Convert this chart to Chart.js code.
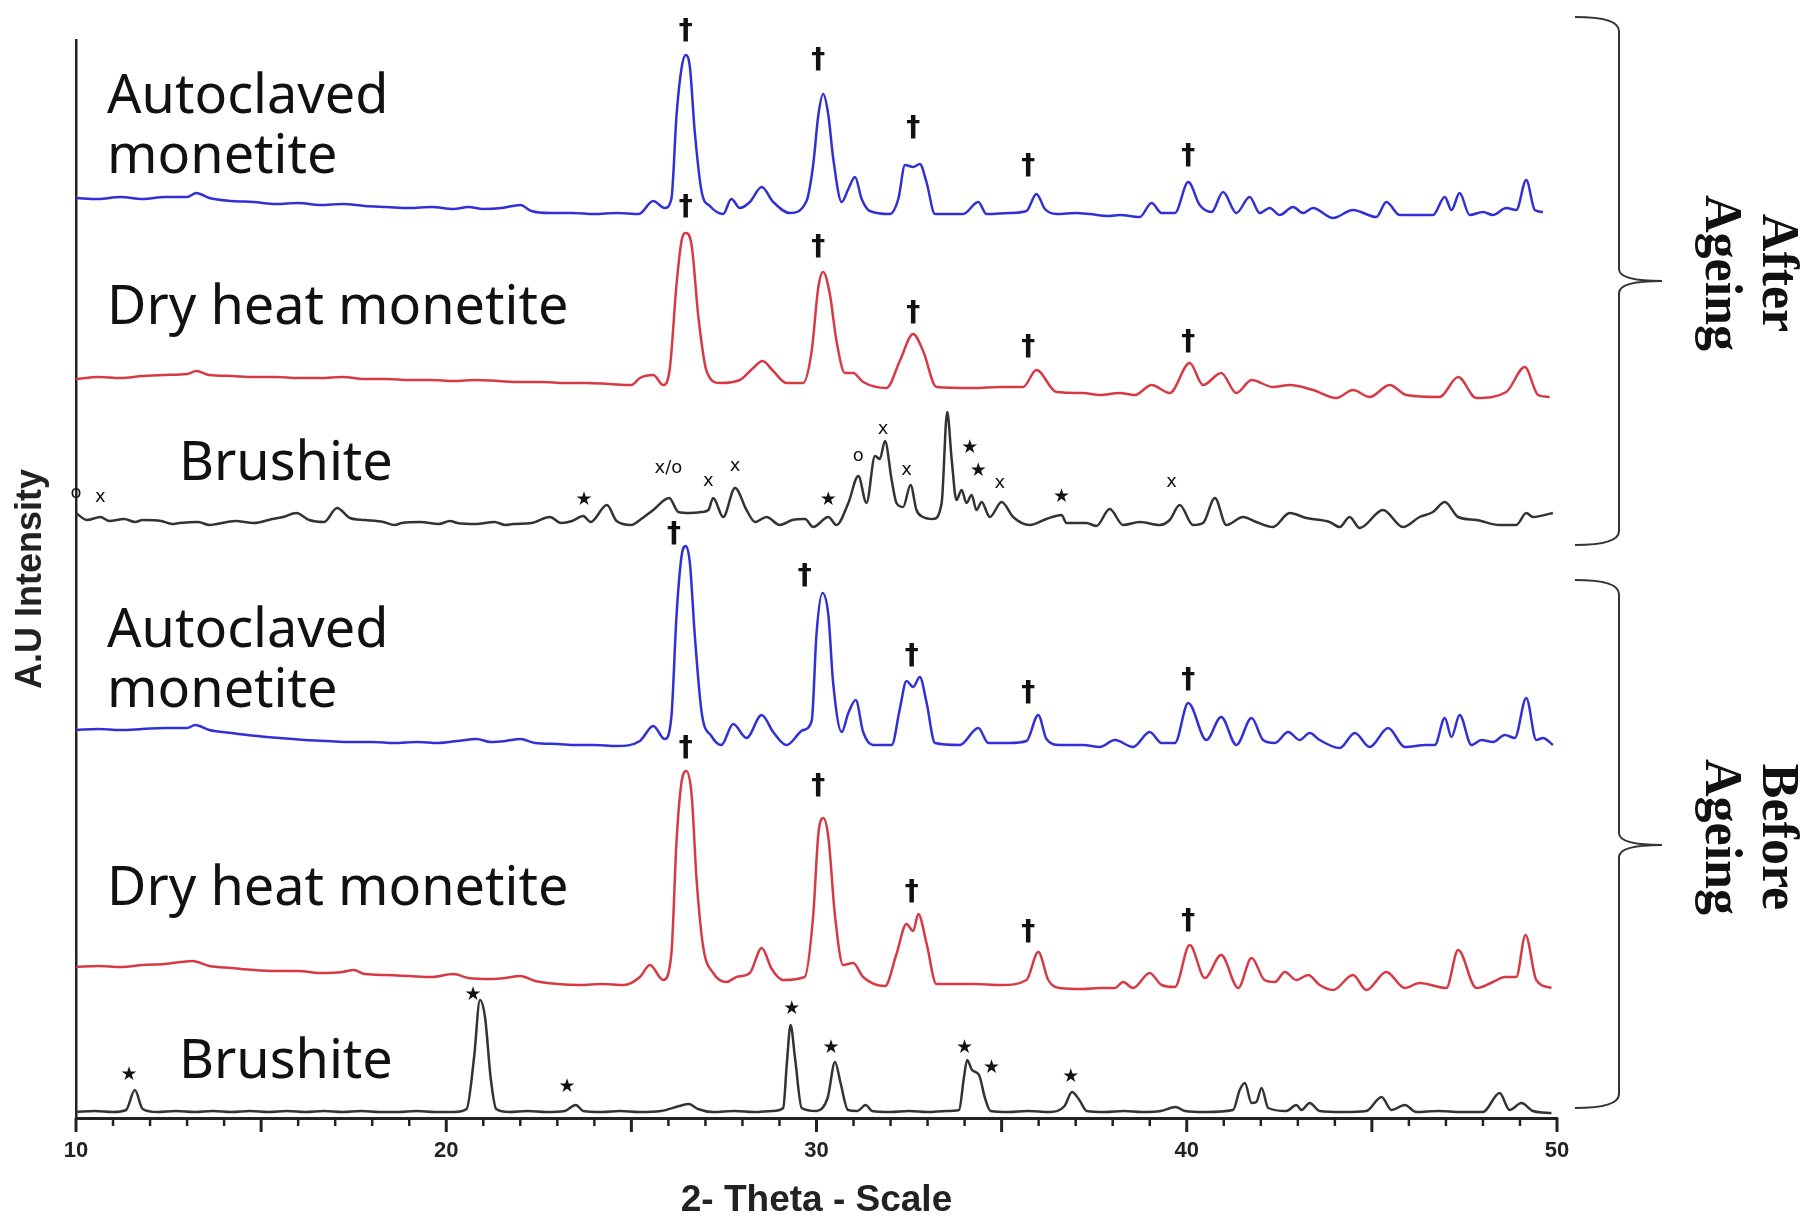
<!DOCTYPE html>
<html>
<head>
<meta charset="utf-8">
<title>XRD - ageing</title>
<script src="https://cdn.jsdelivr.net/npm/chart.js@4"></script>
<style>
  html, body { margin: 0; padding: 0; background: #fff; }
  canvas { display: block; }
</style>
</head>
<body>
<canvas id="grafico-xrd" width="1807" height="1225"></canvas>
<script>
// 2-theta (deg) and stacked intensity (a.u.), top trace first

// --- after ageing ---
const autoAfterTheta = [10.0,10.6,11.2,11.8,12.4,13.0,13.25,13.6,14.2,14.8,15.4,16.0,16.6,17.2,17.8,18.4,19.0,19.6,20.2,20.6,21.0,21.5,22.0,22.3,22.8,23.4,24.0,24.6,25.2,25.59,25.9,26.08,26.22,26.36,26.47,26.58,26.71,26.9,27.12,27.48,27.7,27.93,28.2,28.52,28.83,29.28,29.73,29.91,30.05,30.18,30.32,30.45,30.68,30.86,31.04,31.22,31.44,31.98,32.21,32.39,32.61,32.79,32.97,33.2,33.96,34.37,34.59,35.2,35.67,35.94,36.17,36.48,37.0,37.38,37.9,38.19,38.73,39.05,39.32,39.68,40.04,40.35,40.67,40.98,41.34,41.7,41.97,42.24,42.51,42.87,43.14,43.41,43.95,44.49,45.12,45.39,45.75,46.29,46.65,46.97,47.15,47.37,47.64,48.0,48.27,48.63,48.9,49.17,49.4,49.62];
const autoAfterI = [920,919,921,919,921,921,925,920,917,916,914,915,913,914,912,911,910,911,909,911,909,910,913,907,905,905,904,905,904,917,910,919,1003,1051,1063,1051,987,926,912,904,919,910,916,931,916,905,917,953,1003,1024,1003,960,916,929,941,919,907,904,919,953,951,954,936,904,904,916,904,905,907,924,909,904,905,904,902,903,901,915,905,905,936,913,906,926,905,921,905,910,903,911,905,910,900,908,901,916,903,903,903,921,908,925,903,906,903,910,908,938,908,906];

const dryAfterTheta = [10.0,10.6,11.2,11.8,12.4,13.0,13.25,13.6,14.2,14.8,15.4,16.0,16.6,17.2,17.8,18.4,19.0,19.6,20.2,20.8,21.4,22.0,22.6,23.2,23.8,24.4,25.0,25.23,25.59,25.86,26.04,26.22,26.36,26.47,26.63,26.81,27.03,27.39,27.93,28.29,28.54,28.83,29.19,29.64,29.87,30.05,30.18,30.36,30.54,30.77,30.99,31.26,31.89,32.25,32.61,32.88,33.24,34.23,35.0,35.58,35.94,36.48,37.2,37.65,38.19,38.6,39.05,39.54,40.08,40.44,40.93,41.34,41.75,42.33,42.78,43.41,44.04,44.49,44.94,45.48,45.93,46.83,47.33,47.82,48.63,49.13,49.49,49.8];
const dryAfterI = [739,741,740,742,743,744,747,743,742,741,741,740,740,741,739,739,738,738,737,738,737,736,736,735,735,734,733,740,743,733,750,834,878,885,872,801,747,735,738,750,757,747,735,735,767,831,846,824,777,745,745,736,730,757,784,767,731,730,731,731,748,726,725,723,725,723,733,725,755,733,745,725,738,731,733,728,720,728,721,733,723,721,741,720,726,751,723,721];

const brushAfterTheta = [10.0,10.3,10.66,10.9,11.3,11.6,11.8,12.3,12.6,12.8,13.3,13.6,13.8,14.3,14.8,15.3,15.6,15.95,16.3,16.7,17.05,17.4,17.8,18.3,18.6,18.8,19.3,19.8,20.1,20.3,20.8,21.3,21.6,21.8,22.3,22.8,23.1,23.4,23.7,23.9,24.34,24.6,25.0,25.23,25.59,26.02,26.27,26.58,26.9,27.08,27.21,27.48,27.8,28.11,28.34,28.65,29.01,29.35,29.69,29.91,30.32,30.54,30.86,31.13,31.35,31.58,31.71,31.85,32.03,32.16,32.34,32.54,32.7,32.88,33.15,33.38,33.53,33.65,33.78,33.92,34.05,34.19,34.32,34.46,34.68,35.0,35.31,35.76,36.21,36.62,36.75,37.29,37.56,37.92,38.28,38.73,39.27,39.54,39.81,40.17,40.44,40.76,41.07,41.52,41.88,42.33,42.78,43.23,43.86,44.13,44.4,44.67,45.3,45.84,46.29,46.65,46.97,47.33,47.82,48.45,48.9,49.17,49.35,49.89];
const brushAfterI = [605,598,601,597,599,596,598,597,594,595,596,593,594,597,595,599,601,605,598,596,610,600,598,596,593,595,596,594,597,595,594,596,593,594,595,601,595,597,602,596,613,597,593,598,608,620,606,605,606,608,620,601,630,608,596,601,593,598,599,591,601,593,615,642,615,662,659,677,638,615,611,633,608,601,599,615,706,659,618,628,615,623,608,616,601,616,601,593,599,603,595,595,592,609,593,596,593,598,613,593,595,620,593,601,596,591,605,600,596,591,601,590,608,591,601,606,616,601,598,593,593,605,601,605];

// --- before ageing ---
const autoBeforeTheta = [10.0,10.6,11.2,11.8,12.4,13.0,13.22,13.6,14.2,14.9,15.5,16.2,16.8,17.4,18.0,18.6,19.2,19.8,20.3,20.82,21.2,21.6,22.0,22.4,23.0,23.5,24.0,24.6,25.23,25.59,25.9,26.08,26.22,26.36,26.47,26.58,26.71,26.9,27.16,27.43,27.75,28.11,28.52,28.83,29.19,29.64,29.87,30.0,30.16,30.32,30.45,30.68,30.86,31.06,31.26,31.53,32.03,32.25,32.43,32.61,32.79,32.97,33.2,33.87,34.37,34.64,35.2,35.67,35.99,36.21,36.57,37.2,37.65,38.06,38.55,39.0,39.32,39.68,40.04,40.53,40.93,41.34,41.75,42.06,42.38,42.74,43.05,43.32,43.59,44.13,44.54,44.94,45.44,45.89,46.47,46.7,46.97,47.15,47.37,47.69,47.96,48.27,48.59,48.86,49.17,49.44,49.62,49.89];
const autoBeforeI = [388,389,388,389,390,390,393,388,385,382,380,378,377,376,376,375,376,375,377,379,376,377,379,375,374,373,373,372,377,392,379,401,503,563,572,555,484,405,382,373,394,380,403,386,373,388,397,484,525,503,435,386,405,418,386,373,373,409,437,431,441,416,375,373,390,375,375,377,403,379,373,373,371,378,371,386,375,375,415,378,401,373,400,378,375,386,378,385,378,370,385,371,390,371,373,373,400,381,403,373,378,376,383,380,420,378,380,373];

const dryBeforeTheta = [10.0,10.6,11.2,11.8,12.4,13.15,13.6,14.2,14.8,15.4,16.0,16.6,17.2,17.5,17.8,18.4,19.0,19.6,20.2,20.6,21.2,21.6,22.0,22.4,23.0,23.6,24.2,24.8,25.23,25.5,25.86,26.08,26.22,26.36,26.49,26.63,26.76,26.94,27.21,27.57,27.84,28.2,28.52,28.79,29.1,29.68,29.91,30.05,30.18,30.32,30.5,30.72,30.99,31.26,31.85,32.16,32.43,32.61,32.75,32.97,33.24,34.23,35.0,35.67,35.99,36.26,36.57,37.2,37.65,38.06,38.28,38.55,39.0,39.32,39.68,40.08,40.49,40.93,41.39,41.75,42.1,42.38,42.65,42.96,43.28,43.59,43.95,44.49,44.85,45.39,45.89,46.29,47.01,47.33,47.82,48.27,48.59,48.9,49.15,49.44,49.85];
const dryBeforeI = [151,152,151,153,154,157,152,150,148,147,147,145,146,148,144,143,142,141,144,140,139,140,142,137,134,133,134,133,141,153,138,164,277,337,347,322,239,171,145,136,141,145,170,149,138,141,202,284,300,281,202,153,155,141,132,164,194,187,204,175,134,134,133,138,166,138,130,129,130,130,136,130,145,133,131,173,140,163,130,160,138,136,146,138,143,133,128,143,128,146,130,135,130,168,130,136,141,141,183,138,130];

const brushBeforeTheta = [10.0,10.5,11.0,11.35,11.59,11.8,12.2,12.7,13.2,13.7,14.2,14.7,15.2,15.7,16.2,16.7,17.2,17.7,18.2,18.7,19.2,19.7,20.2,20.55,20.75,20.91,21.05,21.2,21.35,21.7,22.2,22.7,23.2,23.5,23.7,24.2,24.7,25.2,25.8,26.3,26.55,26.8,27.2,27.8,28.3,28.8,29.1,29.2,29.3,29.42,29.6,30.0,30.3,30.5,30.65,30.85,31.1,31.33,31.5,32.0,32.5,33.0,33.5,33.85,33.98,34.07,34.2,34.39,34.55,34.7,35.2,35.7,36.3,36.7,36.9,37.1,37.3,37.8,38.3,38.8,39.3,39.7,39.95,40.5,41.25,41.43,41.57,41.75,41.88,42.02,42.2,42.69,42.96,43.1,43.32,43.59,44.2,44.85,45.26,45.53,45.89,46.2,46.8,47.4,48.0,48.45,48.72,49.04,49.35,49.85];
const brushBeforeI = [6,7,6,8,28,9,6,7,6,7,6,7,6,7,6,7,6,7,6,6,7,6,6,9,60,118,100,40,9,6,7,6,7,13,7,6,7,6,7,12,14,9,6,7,6,7,10,55,93,60,10,7,20,56,35,8,7,13,7,6,7,6,7,8,40,58,48,43,20,7,6,7,6,12,26,18,7,6,7,6,7,11,7,6,8,28,35,15,16,30,10,7,13,8,15,7,6,7,21,8,13,6,7,6,6,25,8,15,7,5];

// x axis
const tickValues = [10, 20, 30, 40, 50];

const BLUE = '#3030d4';
const RED = '#d63a44';
const BLACK = '#333333';

function serie(theta, vals, color) {
    return {
        data: theta.map((t, i) => ({ x: t, y: vals[i] })),
        borderColor: color,
        borderWidth: 2.5,
        pointRadius: 0,
        cubicInterpolationMode: 'monotone',
        fill: false
    };
}

// sample names, written next to each trace (2-theta, level)
const sampleLabels = [
    { text: 'Autoclaved', at: [10.84, 1005] },
    { text: 'monetite', at: [10.84, 945] },
    { text: 'Dry heat monetite', at: [10.84, 794] },
    { text: 'Brushite', at: [12.78, 638] },
    { text: 'Autoclaved', at: [10.84, 471] },
    { text: 'monetite', at: [10.84, 411] },
    { text: 'Dry heat monetite', at: [10.84, 213] },
    { text: 'Brushite', at: [12.78, 40] }
];

// peak markers: † monetite, ★ brushite, x / o other phases
const markers = [
    ['†', 26.47, 1086], ['†', 30.05, 1057], ['†', 32.61, 989], ['†', 35.72, 951], ['†', 40.04, 961],
    ['†', 26.47, 910], ['†', 30.05, 870], ['†', 32.61, 804], ['†', 35.72, 770], ['†', 40.04, 775],
    ['o', 10.0, 625], ['x', 10.66, 621], ['★', 23.72, 618], ['x/o', 26.0, 650], ['x', 27.08, 637],
    ['x', 27.8, 652], ['★', 30.32, 618], ['o', 31.13, 662], ['x', 31.8, 689], ['x', 32.43, 648],
    ['★', 34.14, 670], ['★', 34.37, 647], ['x', 34.95, 635], ['★', 36.62, 621], ['x', 39.59, 636],
    ['†', 26.15, 583], ['†', 29.68, 541], ['†', 32.57, 461], ['†', 35.72, 424], ['†', 40.04, 437],
    ['†', 26.47, 369], ['†', 30.05, 331], ['†', 32.57, 225], ['†', 35.72, 185], ['†', 40.04, 196],
    ['★', 11.43, 43], ['★', 20.72, 123], ['★', 23.26, 31], ['★', 29.33, 109], ['★', 30.39, 70],
    ['★', 34.0, 70], ['★', 34.73, 50], ['★', 36.87, 41]
];

// brackets on the right
const groups = [
    { lines: ['After', 'Ageing'], top: 1101, cusp: 837, bottom: 573 },
    { lines: ['Before', 'Ageing'], top: 538, cusp: 273, bottom: 10 }
];

const overlay = {
    id: 'overlay',
    afterDraw(chart) {
        const { ctx, chartArea } = chart;
        const xs = chart.scales.x;
        const ys = chart.scales.y;
        ctx.save();

        // tick marks: every degree, longer every 5
        ctx.strokeStyle = '#222';
        for (let t = 10; t <= 50; t += 1) {
            const px = xs.getPixelForValue(t);
            const big = t % 5 === 0;
            ctx.lineWidth = big ? 3 : 2.5;
            ctx.beginPath();
            ctx.moveTo(px, chartArea.bottom);
            ctx.lineTo(px, chartArea.bottom + (big ? 14 : 8));
            ctx.stroke();
        }

        // sample names
        ctx.fillStyle = '#111';
        ctx.font = '54px "Noto Sans"';
        ctx.textAlign = 'left';
        ctx.textBaseline = 'alphabetic';
        sampleLabels.forEach(l => {
            ctx.fillText(l.text, xs.getPixelForValue(l.at[0]), ys.getPixelForValue(l.at[1]));
        });

        // peak markers
        ctx.textAlign = 'center';
        ctx.textBaseline = 'middle';
        markers.forEach(([sym, t, v]) => {
            if (sym === '†') ctx.font = 'bold 28px "DejaVu Sans"';
            else if (sym === '★') ctx.font = '19px "DejaVu Sans"';
            else ctx.font = '18px "DejaVu Sans"';
            ctx.fillText(sym, xs.getPixelForValue(t), ys.getPixelForValue(v));
        });

        // curly brackets + group names
        const xr = chartArea.right;
        const x0 = xr + 18, x1 = xr + 62, x2 = xr + 105;
        ctx.strokeStyle = '#333';
        ctx.lineWidth = 2;
        groups.forEach(g => {
            const yt = ys.getPixelForValue(g.top);
            const yc = ys.getPixelForValue(g.cusp);
            const yb = ys.getPixelForValue(g.bottom);
            ctx.beginPath();
            ctx.moveTo(x0, yt);
            ctx.quadraticCurveTo(x1, yt, x1, yt + 14);
            ctx.lineTo(x1, yc - 12);
            ctx.quadraticCurveTo(x1, yc, x2, yc);
            ctx.quadraticCurveTo(x1, yc, x1, yc + 12);
            ctx.lineTo(x1, yb - 14);
            ctx.quadraticCurveTo(x1, yb, x0, yb);
            ctx.stroke();

            ctx.fillStyle = '#111';
            ctx.font = 'bold 52px "Liberation Serif"';
            ctx.textAlign = 'center';
            ctx.textBaseline = 'alphabetic';
            g.lines.forEach((txt, i) => {
                ctx.save();
                ctx.translate(xr + 206 - i * 57, yc - 8);
                ctx.rotate(Math.PI / 2);
                ctx.fillText(txt, 0, 0);
                ctx.restore();
            });
        });

        ctx.restore();
    }
};

new Chart(document.getElementById('grafico-xrd'), {
    type: 'line',
    data: {
        datasets: [
            serie(autoAfterTheta, autoAfterI, BLUE),
            serie(dryAfterTheta, dryAfterI, RED),
            serie(brushAfterTheta, brushAfterI, BLACK),
            serie(autoBeforeTheta, autoBeforeI, BLUE),
            serie(dryBeforeTheta, dryBeforeI, RED),
            serie(brushBeforeTheta, brushBeforeI, BLACK)
        ]
    },
    options: {
        responsive: false,
        animation: false,
        devicePixelRatio: 1,
        layout: { padding: { left: 0, right: 250, top: 40, bottom: 0 } },
        plugins: {
            legend: { display: false },
            tooltip: { enabled: false }
        },
        scales: {
            x: {
                type: 'linear',
                min: 10,
                max: 50,
                afterFit: s => { s.height = 107; },
                border: { display: true, color: '#222', width: 3 },
                // tick marks are drawn by the overlay, keep only the spacing here
                grid: { display: true, drawOnChartArea: false, drawTicks: true, tickLength: 8, tickColor: 'rgba(0,0,0,0)' },
                ticks: {
                    stepSize: 1,
                    autoSkip: false,
                    maxRotation: 0,
                    padding: 12,
                    color: '#222',
                    font: { family: 'Liberation Sans', weight: 'bold', size: 22 },
                    callback: v => tickValues.includes(v) ? String(v) : ''
                },
                title: {
                    display: true,
                    text: '2- Theta - Scale',
                    color: '#222',
                    font: { family: 'Liberation Sans', weight: 'bold', size: 37 },
                    padding: { top: 0, bottom: 2 }
                }
            },
            y: {
                type: 'linear',
                min: 0,
                max: 1078,
                afterFit: s => { s.width = 76; },
                border: { display: true, color: '#222', width: 2.5 },
                grid: { display: false },
                ticks: { display: false },
                title: {
                    display: true,
                    text: 'A.U Intensity',
                    color: '#222',
                    font: { family: 'Liberation Sans', weight: 'bold', size: 36 },
                    padding: { top: 9, bottom: 0 }
                }
            }
        }
    },
    plugins: [overlay]
});
</script>
</body>
</html>
